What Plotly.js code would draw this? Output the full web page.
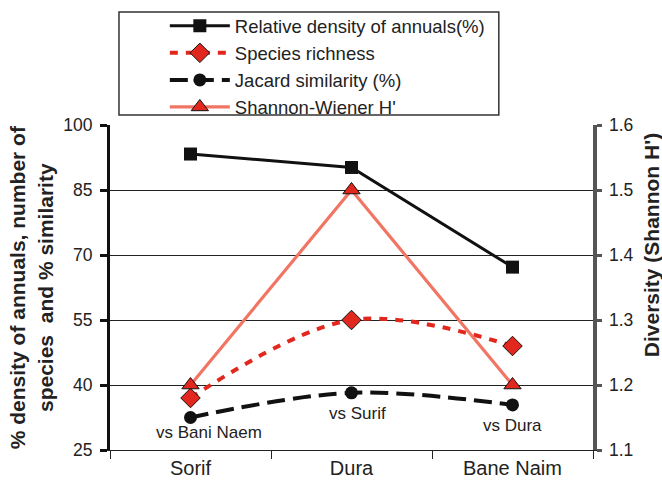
<!DOCTYPE html>
<html>
<head>
<meta charset="utf-8">
<script src="https://cdn.plot.ly/plotly-3.0.1.min.js"></script>
<style>html,body{margin:0;padding:0;background:#fff}#chart{width:662px;height:484px}</style>
</head>
<body>
<div id="chart"></div>
<script>
const sites = ['Sorif', 'Dura', 'Bane Naim'];
const densityAnnuals = [93.3, 90.2, 67.2];
const speciesRichness = [37, 55, 49];
const jacardSimilarity = [32.5, 38.2, 35.4];
const shannonH = [1.2, 1.5, 1.2];
const jacardLabels = ['vs Bani Naem', 'vs Surif', 'vs Dura'];
const seriesNames = ['Relative density of annuals(%)', 'Species richness', 'Jacard similarity (%)', "Shannon-Wiener H'"];
const leftTicks = [25, 40, 55, 70, 85, 100];
const rightTicks = [1.1, 1.2, 1.3, 1.4, 1.5, 1.6];

const labelOffsets = [[18, -15], [6, -21], [0, -21]];
const FONT = 'Liberation Sans, Arial, sans-serif';

const traces = [
  {x: sites, y: densityAnnuals, name: seriesNames[0], type: 'scatter', mode: 'lines+markers',
   line: {color: '#111', width: 3}, marker: {symbol: 'square', size: 13, color: '#111'}},
  {x: sites, y: speciesRichness, name: seriesNames[1], type: 'scatter', mode: 'lines+markers',
   line: {color: '#e2281e', width: 4, dash: '8px,8px', shape: 'spline'},
   marker: {symbol: 'diamond', size: 15, color: '#e2281e', line: {color: '#111', width: 1}}},
  {x: sites, y: jacardSimilarity, name: seriesNames[2], type: 'scatter', mode: 'lines+markers',
   line: {color: '#111', width: 4, dash: '18px,8px', shape: 'spline'},
   marker: {symbol: 'circle', size: 13, color: '#111'}},
  {x: sites, y: shannonH, name: seriesNames[3], type: 'scatter', mode: 'lines+markers', yaxis: 'y2',
   line: {color: '#f27564', width: 3.2},
   marker: {symbol: 'triangle-up', size: 15, color: '#e2281e', line: {color: '#111', width: 1}}}
];

const annotations = jacardLabels.map((t, i) => ({
  x: sites[i], y: jacardSimilarity[i], xref: 'x', yref: 'y', text: t, showarrow: false,
  xshift: labelOffsets[i][0], yshift: labelOffsets[i][1],
  font: {family: FONT, size: 17, color: '#222'}, xanchor: 'center', yanchor: 'middle'
}));
annotations.push({
  xref: 'paper', yref: 'paper', x: -0.164, y: 0.5, textangle: -90, showarrow: false,
  text: '<b>% density of annuals, number of<br>species  and % similarity</b>',
  font: {family: FONT, size: 21, color: '#222'}, xanchor: 'center', yanchor: 'middle'
});
annotations.push({
  xref: 'paper', yref: 'paper', x: 1.12, y: 0.63, textangle: -90, showarrow: false,
  text: "<b>Diversity (Shannon H')</b>",
  font: {family: FONT, size: 21, color: '#222'}, xanchor: 'center', yanchor: 'middle'
});

const layout = {
  width: 662, height: 484,
  margin: {l: 110, r: 69, t: 125, b: 34, autoexpand: false},
  paper_bgcolor: '#fff', plot_bgcolor: '#fff',
  font: {family: FONT, color: '#222'},
  showlegend: true,
  legend: {xref: 'container', yref: 'container', x: 0.249, y: 0.985, xanchor: 'left', yanchor: 'top',
           bgcolor: 'rgba(0,0,0,0)', borderwidth: 0, font: {family: FONT, size: 18.5, color: '#222'},
           itemwidth: 60, tracegroupgap: 0},
  xaxis: {type: 'category', range: [-0.5, 2.5], tickson: 'boundaries', ticks: 'outside',
          ticklen: 8, tickwidth: 1, tickcolor: '#222', showline: true, linecolor: '#222', linewidth: 1,
          showgrid: false, zeroline: false, tickfont: {family: FONT, size: 20, color: '#222'}},
  yaxis: {range: [25, 100], tickvals: leftTicks, ticks: 'outside', ticklen: 7, tickwidth: 3,
          tickcolor: '#111', showline: true, linecolor: '#111', linewidth: 3, showgrid: true,
          gridcolor: '#222', gridwidth: 1, zeroline: false, ticklabelstandoff: 4,
          tickfont: {family: FONT, size: 17.5, color: '#222'}},
  yaxis2: {range: [1.1, 1.6], tickvals: rightTicks, tickformat: '.1f', overlaying: 'y', side: 'right',
           ticks: 'outside', ticklen: 5, tickwidth: 3, tickcolor: '#555', showline: true,
           linecolor: '#555', linewidth: 3.5, showgrid: false, zeroline: false, ticklabelstandoff: 4,
           tickfont: {family: FONT, size: 17.5, color: '#222'}},
  shapes: [{type: 'rect', xref: 'paper', yref: 'paper', x0: 0.0186, x1: 0.805, y0: 1.031, y1: 1.348,
            line: {color: '#333', width: 1.5}, fillcolor: 'rgba(0,0,0,0)', layer: 'above'}],
  annotations: annotations
};

Plotly.newPlot('chart', traces, layout, {displayModeBar: false, staticPlot: true});
</script>
</body>
</html>
